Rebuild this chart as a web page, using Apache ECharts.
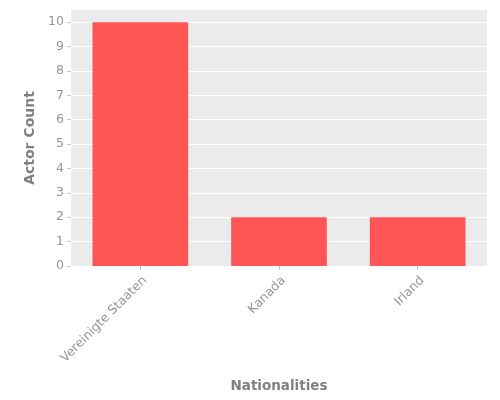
<!DOCTYPE html>
<html><head><meta charset="utf-8">
<script src="https://cdn.jsdelivr.net/npm/echarts@6/dist/echarts.min.js"></script>
<style>html,body{margin:0;padding:0;background:#fff}#c{width:500px;height:400px}</style>
</head><body><div id="c"></div>
<script>
const categories = ["Vereinigte Staaten", "Kanada", "Irland"];
const actorCounts = [10, 2, 2];
const yTicks = [0,1,2,3,4,5,6,7,8,9,10];

const chart = echarts.init(document.getElementById('c'), null, {renderer:'canvas'});
const txt = '#808080';
const lbl = '#959595';
chart.setOption({
  animation:false,
  backgroundColor:'#ffffff',
  textStyle:{fontFamily:'DejaVu Sans'},
  grid:{left:71, right:13, top:10, bottom:134, show:true, backgroundColor:'#ebebeb', borderWidth:0},
  xAxis:{
    type:'category', data:categories,
    name:'Nationalities', nameLocation:'middle', nameGap:113,
    nameTextStyle:{color:txt, fontSize:13.5, fontWeight:'bold', fontFamily:'DejaVu Sans'},
    axisLine:{show:false},
    axisTick:{show:true, alignWithLabel:true, length:4, lineStyle:{color:'#c8c8c8'}},
    axisLabel:{rotate:45, color:lbl, fontSize:12.5, margin:8, verticalAlign:'top', fontFamily:'DejaVu Sans'},
    splitLine:{show:false}
  },
  yAxis:{
    type:'value', min:0, max:10.5, interval:1,
    name:'Actor Count', nameLocation:'middle', nameGap:31,
    nameTextStyle:{color:txt, fontSize:14, fontWeight:'bold', fontFamily:'DejaVu Sans'},
    axisLine:{show:false},
    axisTick:{show:true, length:4, customValues:yTicks, lineStyle:{color:'#c8c8c8'}},
    axisLabel:{color:lbl, fontSize:12.5, margin:7, fontFamily:'DejaVu Sans', customValues:yTicks},
    splitLine:{show:true, lineStyle:{color:'#ffffff', width:1}}
  },
  series:[{
    type:'bar', data:actorCounts, barWidth:'69%',
    itemStyle:{color:'#ff5555'}
  }]
});
</script></body></html>
